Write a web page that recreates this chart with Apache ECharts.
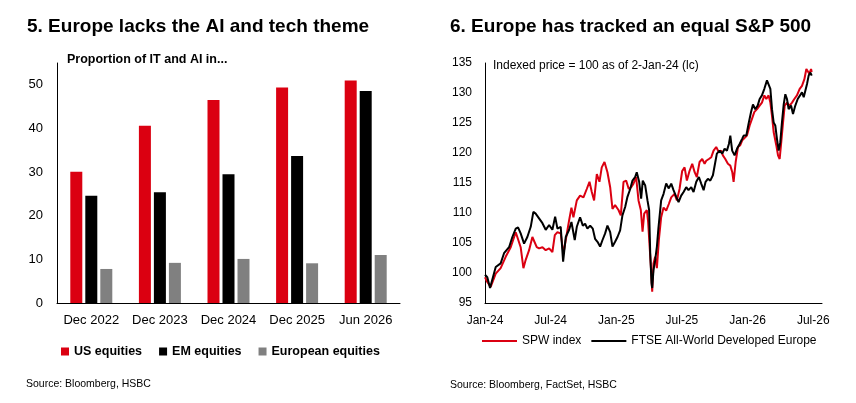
<!DOCTYPE html>
<html>
<head>
<meta charset="utf-8">
<script src="https://cdn.jsdelivr.net/npm/echarts@6/dist/echarts.min.js"></script>
<style>
  html, body { margin: 0; padding: 0; background: #fff; }
  #chart { width: 856px; height: 403px; }
</style>
</head>
<body>
<div id="chart"></div>
<script>
  // 左图: 柱状图
  var barCategories = ['Dec 2022', 'Dec 2023', 'Dec 2024', 'Dec 2025', 'Jun 2026']
  var usEquities = [30.1, 40.6, 46.5, 49.4, 51.0]
  var emEquities = [24.6, 25.4, 29.5, 33.7, 48.6]
  var euEquities = [7.8, 9.2, 10.1, 9.1, 11.0]

  // 右图: 折线图 (x = months since Jan-24)
  var monthTicks = ['Jan-24', 'Jul-24', 'Jan-25', 'Jul-25', 'Jan-26', 'Jul-26']
  var spwMonths = [0, 0.21, 0.52, 0.98, 1.43, 1.89, 2.35, 2.81, 2.96, 3.26, 3.51, 3.72, 4.03, 4.33, 4.48, 4.73, 4.94, 5.25, 5.55, 5.86,
    6.16, 6.38, 6.62, 6.92, 7.17, 7.38, 7.69, 7.9, 8.08, 8.39, 8.69, 9.0, 9.3, 9.55, 9.76, 9.97, 10.22, 10.46, 10.67, 10.92,
    11.19, 11.44, 11.65, 11.89, 12.2, 12.41, 12.66, 12.9, 13.14, 13.36, 13.57, 13.81, 14.03, 14.24, 14.4, 14.55, 14.79, 14.91, 15.03, 15.16,
    15.28, 15.4, 15.55, 15.71, 15.89, 16.1, 16.32, 16.56, 16.8, 17.02, 17.32, 17.54, 17.78, 18.02, 18.24, 18.45, 18.69, 18.94, 19.16, 19.36,
    19.61, 19.85, 20.07, 20.22, 20.46, 20.68, 20.89, 21.13, 21.38, 21.59, 21.74, 21.96, 22.2, 22.42, 22.6, 22.72, 22.91, 23.12, 23.33, 23.51,
    23.64, 23.94, 24.19, 24.4, 24.61, 24.86, 25.1, 25.31, 25.53, 25.71, 25.92, 26.08, 26.23, 26.38, 26.62, 26.78, 26.93, 27.05, 27.24, 27.39,
    27.6, 27.84, 28.06, 28.27, 28.51, 28.76, 28.97, 29.19, 29.37, 29.49, 29.64, 29.8, 29.86]
  var spwIndex = [99.3, 98.5, 97.7, 99.9, 100.8, 102.7, 104.3, 106.8, 106.6, 104.3, 100.8, 102.2, 103.8, 106.0, 105.7, 104.3, 104.1, 104.3, 103.8, 104.1,
    103.5, 106.3, 106.8, 106.6, 103.2, 105.5, 108.8, 110.9, 109.3, 112.1, 112.9, 112.6, 114.0, 115.2, 113.5, 112.1, 116.5, 115.2, 117.6, 118.5,
    116.8, 114.3, 110.7, 111.3, 110.5, 109.6, 115.2, 115.4, 114.0, 114.3, 114.9, 116.0, 112.1, 110.5, 106.9, 109.9, 110.5, 108.5, 104.9, 101.1,
    96.9, 101.6, 102.7, 100.8, 105.5, 109.3, 110.9, 110.4, 111.5, 112.6, 113.2, 112.1, 114.0, 117.0, 117.6, 115.4, 117.0, 118.2, 116.8, 116.0,
    118.5, 119.0, 118.2, 118.7, 119.0, 119.3, 120.4, 121.0, 120.1, 120.4, 119.6, 119.0, 118.2, 117.9, 116.8, 115.2, 118.5, 121.0, 121.3, 122.1,
    121.8, 122.9, 124.6, 125.7, 126.8, 127.3, 127.9, 128.4, 129.6, 129.0, 129.6, 128.4, 126.2, 123.5, 121.3, 119.6, 119.0, 121.3, 125.1, 127.9,
    128.4, 127.9, 128.4, 129.0, 129.6, 130.7, 131.2, 132.3, 134.0, 134.3, 133.2, 134.0, 133.5]
  var ftseMonths = [0, 0.21, 0.46, 0.98, 1.43, 1.74, 2.2, 2.5, 2.81, 3.02, 3.26, 3.57, 3.87, 4.18, 4.42, 4.63, 4.94, 5.25, 5.55, 5.86,
    6.16, 6.41, 6.62, 6.92, 7.14, 7.38, 7.69, 7.9, 8.05, 8.2, 8.39, 8.69, 8.94, 9.15, 9.36, 9.61, 9.85, 10.06, 10.28, 10.52,
    10.74, 10.98, 11.19, 11.44, 11.65, 11.89, 12.11, 12.35, 12.56, 12.81, 13.02, 13.27, 13.48, 13.72, 13.87, 14.09, 14.27, 14.42, 14.64, 14.85,
    15.0, 15.1, 15.22, 15.28, 15.4, 15.55, 15.71, 15.85, 16.1, 16.32, 16.56, 16.8, 17.02, 17.23, 17.48, 17.69, 17.93, 18.15, 18.39, 18.6,
    18.85, 19.06, 19.31, 19.55, 19.76, 19.98, 20.16, 20.37, 20.59, 20.83, 21.05, 21.19, 21.44, 21.68, 21.9, 22.11, 22.29, 22.42, 22.59, 22.81,
    23.03, 23.27, 23.51, 23.64, 23.88, 24.09, 24.31, 24.49, 24.7, 24.92, 25.1, 25.31, 25.53, 25.77, 25.92, 26.08, 26.23, 26.38, 26.53, 26.68,
    26.84, 26.99, 27.14, 27.3, 27.45, 27.6, 27.75, 27.97, 28.15, 28.36, 28.58, 28.76, 28.97, 29.13, 29.28, 29.43, 29.58, 29.74, 29.86]
  var ftseIndex = [99.7, 99.3, 97.5, 101.0, 101.6, 103.3, 104.3, 106.0, 107.4, 107.6, 106.6, 104.9, 106.0, 107.7, 110.2, 109.9, 109.1, 108.3, 107.2, 108.0,
    107.2, 109.4, 107.4, 107.7, 101.9, 106.0, 107.2, 108.5, 108.2, 105.5, 107.7, 109.3, 107.9, 108.2, 107.4, 107.9, 107.4, 105.7, 105.2, 104.4,
    105.5, 106.6, 107.9, 106.8, 104.4, 105.2, 106.0, 107.1, 109.6, 111.0, 112.7, 114.0, 115.4, 116.0, 116.8, 115.2, 112.4, 115.4, 114.6, 112.1,
    110.5, 103.3, 98.3, 97.5, 100.5, 102.1, 104.4, 107.5, 112.1, 113.2, 114.9, 114.1, 114.9, 113.8, 112.7, 111.8, 112.9, 113.5, 114.3, 113.8,
    114.3, 113.5, 115.2, 116.0, 114.9, 113.8, 115.2, 115.7, 115.4, 116.3, 118.5, 119.9, 120.4, 119.9, 120.7, 120.4, 121.5, 122.9, 120.4, 119.6,
    120.7, 121.5, 122.4, 122.9, 122.9, 124.9, 126.8, 128.1, 127.3, 127.9, 129.0, 129.6, 130.7, 132.1, 132.3, 130.7, 127.3, 125.1, 124.6, 122.4,
    120.4, 121.8, 125.1, 128.1, 129.8, 129.0, 127.3, 127.9, 126.5, 127.9, 129.0, 129.3, 130.1, 129.3, 129.0, 131.5, 132.9, 133.4, 132.9]

  var FONT = '"Liberation Sans", Arial, sans-serif'
  var RED = '#db0011'
  var GREY = '#808080'

  function zip (xs, ys) {
    return xs.map(function (x, i) { return [x, ys[i]] })
  }

  function label (x, y, text, size, bold) {
    return {
      type: 'text', x: x, y: y, silent: true,
      style: { text: text, fontSize: size, fontWeight: bold ? 'bold' : 'normal', fontFamily: FONT, fill: '#000', verticalAlign: 'middle' }
    }
  }

  var axisLineBlack = { show: true, lineStyle: { color: '#000', width: 1 } }

  var option = {
    animation: false,
    backgroundColor: '#fff',
    textStyle: { fontFamily: FONT, color: '#000' },
    graphic: [
      label(27, 27, '5. Europe lacks the AI and tech theme', 19, true),
      label(67, 60, 'Proportion of IT and AI in...', 12.5, true),
      label(26, 384, 'Source: Bloomberg, HSBC', 10.5, false),
      label(450, 27, '6. Europe has tracked an equal S&P 500', 19, true),
      label(493, 66, 'Indexed price = 100 as of 2-Jan-24 (lc)', 12, false),
      label(450, 385, 'Source: Bloomberg, FactSet, HSBC', 10.5, false)
    ],
    legend: [
      {
        data: ['US equities', 'EM equities', 'European equities'],
        left: 61, top: 345, padding: 0,
        icon: 'rect', itemWidth: 8, itemHeight: 8, itemGap: 17,
        textStyle: { fontSize: 12.5, fontWeight: 'bold', color: '#000', fontFamily: FONT }
      },
      {
        data: ['SPW index', 'FTSE All-World Developed Europe'],
        left: 482, top: 335, padding: 0,
        icon: 'rect', itemWidth: 35, itemHeight: 2, itemGap: 10,
        textStyle: { fontSize: 12, color: '#000', fontFamily: FONT }
      }
    ],
    grid: [
      { left: 57, right: 456, top: 63, bottom: 100 },
      { left: 485, right: 34, top: 63, bottom: 100 }
    ],
    xAxis: [
      {
        type: 'category', gridIndex: 0, data: barCategories,
        axisLine: axisLineBlack, axisTick: { show: false },
        axisLabel: { color: '#000', fontSize: 13, margin: 11, fontFamily: FONT, interval: 0 }
      },
      {
        type: 'value', gridIndex: 1, min: 0, max: 30.8, interval: 6,
        axisLine: axisLineBlack, axisTick: { show: false }, splitLine: { show: false },
        axisLabel: {
          color: '#000', fontSize: 12, margin: 12, fontFamily: FONT,
          formatter: function (v) { return v % 6 === 0 ? monthTicks[v / 6] : '' }
        }
      }
    ],
    yAxis: [
      {
        type: 'value', gridIndex: 0, min: 0, max: 55, interval: 10,
        axisLine: axisLineBlack, axisTick: { show: false }, splitLine: { show: false },
        axisLabel: {
          color: '#000', fontSize: 13, margin: 14, fontFamily: FONT,
          formatter: function (v) { return v % 10 === 0 ? v : '' }
        }
      },
      {
        type: 'value', gridIndex: 1, min: 95, max: 135, interval: 5,
        axisLine: axisLineBlack, axisTick: { show: false }, splitLine: { show: false },
        axisLabel: { color: '#000', fontSize: 12, margin: 13, fontFamily: FONT }
      }
    ],
    series: [
      { name: 'US equities', type: 'bar', xAxisIndex: 0, yAxisIndex: 0, data: usEquities, barWidth: 12, barGap: '25%', itemStyle: { color: RED } },
      { name: 'EM equities', type: 'bar', xAxisIndex: 0, yAxisIndex: 0, data: emEquities, barWidth: 12, barGap: '25%', itemStyle: { color: '#000' } },
      { name: 'European equities', type: 'bar', xAxisIndex: 0, yAxisIndex: 0, data: euEquities, barWidth: 12, barGap: '25%', itemStyle: { color: GREY } },
      {
        name: 'SPW index', type: 'line', xAxisIndex: 1, yAxisIndex: 1, data: zip(spwMonths, spwIndex),
        showSymbol: false, symbol: 'none', lineStyle: { color: RED, width: 2 }, itemStyle: { color: RED }, z: 2
      },
      {
        name: 'FTSE All-World Developed Europe', type: 'line', xAxisIndex: 1, yAxisIndex: 1, data: zip(ftseMonths, ftseIndex),
        showSymbol: false, symbol: 'none', lineStyle: { color: '#000', width: 2 }, itemStyle: { color: '#000' }, z: 3
      }
    ]
  }

  var chart = echarts.init(document.getElementById('chart'))
  chart.setOption(option)
</script>
</body>
</html>
